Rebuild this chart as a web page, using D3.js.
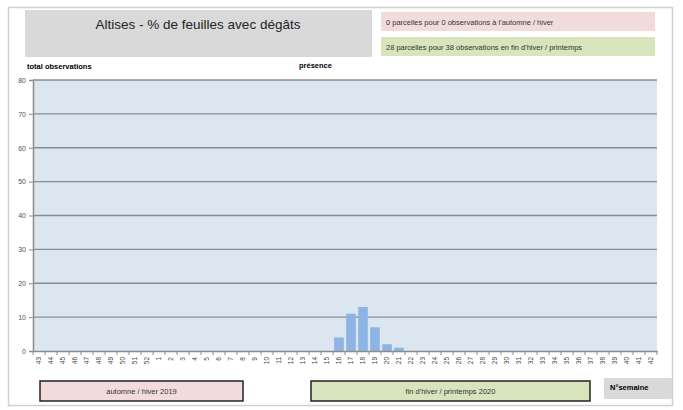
<!DOCTYPE html>
<html lang="fr">
<head>
<meta charset="UTF-8">
<script src="https://cdn.jsdelivr.net/npm/d3@7"></script>
<style>
  body { margin: 0; background: #fff; }
  text { font-family: "Liberation Sans", Arial, sans-serif; }
</style>
</head>
<body>
<div id="chart"></div>
<script>
    // week numbers (autumn 2019 -> spring 2020)
    var weeks = ["43", "44", "45", "46", "47", "48", "49", "50", "51", "52",
        "1", "2", "3", "4", "5", "6", "7", "8", "9", "10", "11", "12", "13", "14", "15",
        "16", "17", "18", "19", "20", "21", "22", "23", "24", "25", "26", "27", "28", "29",
        "30", "31", "32", "33", "34", "35", "36", "37", "38", "39", "40", "41", "42"];
    // observations with damage per week
    var presenceWeeks = ["16", "17", "18", "19", "20", "21"];
    var presenceValues = [4, 11, 13, 7, 2, 1];
    var yTicks = [0, 10, 20, 30, 40, 50, 60, 70, 80];

    var W = 683, H = 410;
    var plot = { left: 33, top: 80, right: 657, bottom: 351 };

    var svg = d3.select("#chart").append("svg")
        .attr("width", W)
        .attr("height", H);

    // outer frame
    svg.append("rect")
        .attr("x", 8.5).attr("y", 7.5)
        .attr("width", 664).attr("height", 398)
        .attr("fill", "none")
        .attr("stroke", "#d0d0d0")
        .attr("stroke-width", 1.5);

    // title box
    svg.append("rect")
        .attr("x", 25).attr("y", 10).attr("width", 347).attr("height", 47)
        .attr("fill", "#d9d9d9");
    svg.append("text")
        .attr("x", 198).attr("y", 29)
        .attr("text-anchor", "middle")
        .attr("font-size", "13.5px")
        .attr("fill", "#222")
        .text("Altises - % de feuilles avec dégâts");

    // info boxes
    var infos = [
        { y: 12, fill: "#f2dcdb", txt: "0 parcelles pour 0 observations à l'automne / hiver" },
        { y: 37, fill: "#d8e4bc", txt: "28 parcelles pour 38 observations en fin d'hiver / printemps" }
    ];
    infos.forEach(function (d) {
        svg.append("rect")
            .attr("x", 381).attr("y", d.y).attr("width", 274).attr("height", 19)
            .attr("fill", d.fill);
        svg.append("text")
            .attr("x", 386).attr("y", d.y + 12.5)
            .attr("font-size", "7.5px")
            .attr("fill", "#333")
            .text(d.txt);
    });

    svg.append("text")
        .attr("x", 27).attr("y", 69)
        .attr("font-size", "7.5px").attr("font-weight", "bold")
        .text("total observations");
    svg.append("text")
        .attr("x", 299).attr("y", 68)
        .attr("font-size", "7.5px").attr("font-weight", "bold")
        .text("présence");

    // scales
    var x = d3.scaleBand()
        .domain(weeks)
        .range([plot.left, plot.right])
        .paddingInner(0.2)
        .paddingOuter(0.1);
    var xTick = d3.scaleBand().domain(weeks).range([plot.left, plot.right]);
    var y = d3.scaleLinear()
        .domain([0, 80])
        .range([plot.bottom, plot.top]);

    // plot background
    svg.append("rect")
        .attr("x", plot.left).attr("y", plot.top)
        .attr("width", plot.right - plot.left)
        .attr("height", plot.bottom - plot.top)
        .attr("fill", "#dce6f1");

    // gridlines
    svg.append("g")
        .selectAll("line")
        .data(yTicks.slice(1))
        .enter()
        .append("line")
        .attr("x1", plot.left).attr("x2", plot.right)
        .attr("y1", function (d) { return y(d); })
        .attr("y2", function (d) { return y(d); })
        .attr("stroke", "#8c8c8c")
        .attr("stroke-width", 1.3);

    // y axis
    var yAxis = svg.append("g")
        .attr("transform", "translate(" + plot.left + ",0)")
        .call(d3.axisLeft(y).tickValues(yTicks).tickSize(4).tickPadding(3));
    yAxis.select(".domain").attr("stroke", "#8c8c8c").attr("stroke-width", 1.5);
    yAxis.selectAll(".tick line").attr("stroke", "#8c8c8c");
    yAxis.selectAll("text").attr("font-size", "7px").attr("fill", "#555");

    // bars
    svg.append("g")
        .selectAll("rect")
        .data(presenceWeeks)
        .enter()
        .append("rect")
        .attr("x", function (d) { return x(d); })
        .attr("y", function (d, i) { return y(presenceValues[i]); })
        .attr("width", x.bandwidth())
        .attr("height", function (d, i) { return y(0) - y(presenceValues[i]); })
        .attr("fill", "#8db4e2");

    // x axis
    var xAxis = svg.append("g")
        .attr("transform", "translate(0," + plot.bottom + ")")
        .call(d3.axisBottom(xTick).tickSize(0));
    xAxis.select(".domain").attr("stroke", "#8c8c8c").attr("stroke-width", 1.3);
    xAxis.selectAll("text")
        .attr("font-size", "6.5px")
        .attr("fill", "#444")
        .attr("transform", "rotate(-90)")
        .attr("text-anchor", "end")
        .attr("dx", "-6px")
        .attr("dy", "0.32em")
        .attr("x", 0).attr("y", 0);
    // tick marks between categories
    svg.append("g")
        .selectAll("line")
        .data(weeks.concat(["end"]))
        .enter()
        .append("line")
        .attr("x1", function (d, i) { return i < weeks.length ? xTick(d) : plot.right; })
        .attr("x2", function (d, i) { return i < weeks.length ? xTick(d) : plot.right; })
        .attr("y1", plot.bottom).attr("y2", plot.bottom + 4)
        .attr("stroke", "#8c8c8c");

    // season boxes
    var seasons = [
        { x: 40, w: 203, fill: "#f2dcdb", txt: "automne / hiver 2019" },
        { x: 311, w: 279, fill: "#d8e4bc", txt: "fin d'hiver / printemps 2020" }
    ];
    seasons.forEach(function (d) {
        svg.append("rect")
            .attr("x", d.x).attr("y", 381).attr("width", d.w).attr("height", 20)
            .attr("fill", d.fill)
            .attr("stroke", "#222")
            .attr("stroke-width", 1.5);
        svg.append("text")
            .attr("x", d.x + d.w / 2).attr("y", 394)
            .attr("text-anchor", "middle")
            .attr("font-size", "7.5px")
            .attr("fill", "#333")
            .text(d.txt);
    });

    svg.append("rect")
        .attr("x", 604).attr("y", 378).attr("width", 68).attr("height", 21)
        .attr("fill", "#d9d9d9");
    svg.append("text")
        .attr("x", 610).attr("y", 390)
        .attr("font-size", "7.5px").attr("font-weight", "bold")
        .text("N°semaine");
</script>
</body>
</html>
